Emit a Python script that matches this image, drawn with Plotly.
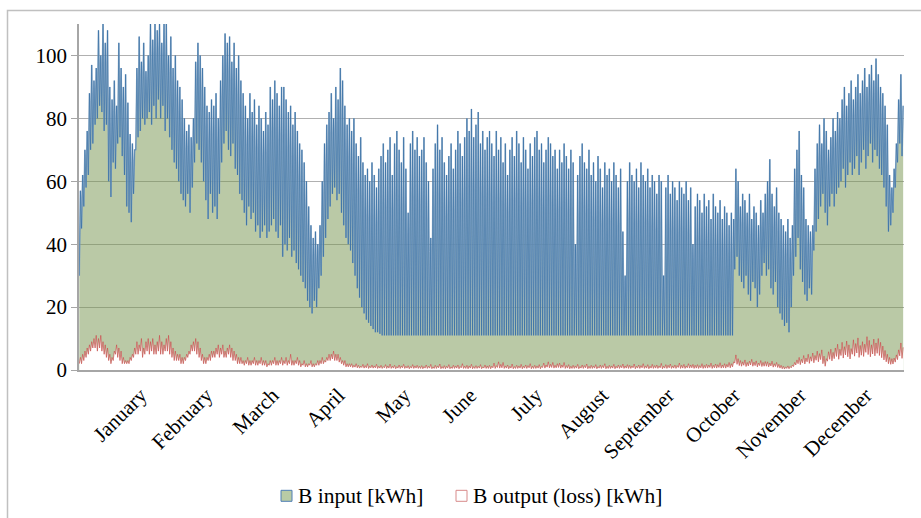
import plotly.graph_objects as go

# ---------------- data ----------------
month_labels = ["January", "February", "March", "April", "May", "June", "July",
                "August", "September", "October", "November", "December"]
y_ticks = [0, 20, 40, 60, 80, 100]

# B input [kWh]: daily peak and daily low, month by month
jan_peak = [57, 62, 70, 76, 88, 97, 92, 96, 108, 100, 110, 104, 108, 90, 86, 92, 84, 104, 96, 90, 94, 85, 75, 72, 70, 96, 106, 98, 104, 95, 100]
jan_low = [30, 45, 52, 58, 62, 70, 72, 78, 80, 84, 82, 76, 78, 60, 55, 66, 64, 72, 74, 68, 62, 52, 50, 47, 56, 70, 74, 76, 80, 78, 80]
feb_peak = [110, 105, 110, 108, 110, 104, 110, 110, 100, 106, 96, 100, 92, 90, 86, 80, 76, 78, 74, 80, 98, 104, 100, 96, 90, 84, 82, 86]
feb_low = [82, 78, 84, 80, 86, 80, 84, 76, 80, 74, 70, 66, 64, 60, 56, 54, 52, 56, 50, 58, 66, 72, 70, 66, 60, 54, 48, 56]
mar_peak = [84, 88, 80, 92, 100, 107, 104, 106, 98, 104, 96, 100, 92, 88, 84, 80, 88, 82, 86, 78, 84, 80, 76, 82, 78, 90, 86, 92, 88, 84, 90]
mar_low = [50, 52, 48, 56, 66, 72, 76, 70, 68, 72, 64, 62, 56, 54, 50, 46, 52, 48, 50, 44, 46, 42, 44, 46, 42, 44, 46, 48, 44, 42, 46]
apr_peak = [90, 86, 82, 84, 78, 82, 76, 72, 70, 66, 60, 52, 46, 42, 44, 40, 46, 60, 72, 78, 82, 88, 80, 90, 86, 96, 92, 84, 78, 80]
apr_low = [36, 40, 38, 42, 36, 38, 34, 32, 30, 28, 26, 22, 20, 18, 22, 20, 26, 30, 36, 42, 48, 52, 56, 58, 54, 56, 50, 46, 42, 40]
may_peak = [76, 80, 72, 68, 74, 66, 62, 64, 60, 66, 62, 58, 64, 68, 72, 66, 70, 74, 62, 72, 76, 70, 66, 74, 64, 50, 72, 76, 70, 74, 68]
may_low = [38, 34, 30, 26, 23, 20, 18, 16, 15, 14, 13, 12, 12, 11.5, 11, 11, 11, 11, 11, 11, 11, 11, 11, 11, 11, 11, 11, 11, 11, 11, 11]
jun_peak = [70, 74, 66, 60, 42, 64, 72, 78, 70, 74, 66, 62, 68, 72, 64, 70, 76, 72, 68, 74, 80, 76, 83, 74, 78, 82, 72, 76, 70, 74]
jun_low = [11] * 30
jul_peak = [76, 72, 68, 76, 70, 74, 66, 72, 62, 70, 74, 68, 76, 72, 66, 74, 70, 64, 72, 68, 74, 76, 70, 72, 66, 70, 74, 72, 68, 70, 64]
jul_low = [11] * 31
aug_peak = [70, 66, 72, 68, 64, 70, 66, 40, 62, 68, 72, 66, 64, 70, 62, 66, 60, 68, 64, 58, 66, 62, 64, 60, 66, 62, 58, 64, 44, 30, 60]
aug_low = [11] * 31
sep_peak = [66, 62, 60, 64, 58, 66, 62, 60, 64, 58, 62, 60, 56, 62, 60, 30, 58, 62, 56, 60, 58, 54, 60, 58, 56, 60, 54, 58, 40, 52]
sep_low = [11] * 30
oct_peak = [56, 54, 50, 56, 52, 54, 48, 56, 52, 50, 54, 48, 52, 50, 46, 50, 48, 64, 60, 52, 56, 54, 50, 56, 48, 52, 50, 46, 54, 50, 56]
oct_low = [11, 11, 11, 11, 11, 11, 11, 11, 11, 11, 11, 11, 11, 11, 11, 11, 11, 32, 36, 30, 28, 26, 30, 24, 22, 28, 26, 20, 24, 30, 34]
nov_peak = [60, 67, 56, 52, 58, 50, 48, 46, 44, 48, 42, 46, 64, 70, 76, 62, 58, 48, 46, 44, 46, 64, 72, 78, 72, 80, 76, 70, 74, 80]
nov_low = [30, 32, 26, 24, 28, 20, 18, 16, 14, 15, 12, 20, 30, 36, 42, 32, 28, 24, 22, 26, 24, 38, 44, 48, 52, 56, 50, 46, 52, 56]
dec_peak = [76, 82, 80, 86, 90, 84, 88, 92, 86, 90, 94, 88, 92, 96, 90, 94, 97, 92, 99, 94, 90, 88, 84, 78, 62, 58, 64, 72, 86, 94, 84]
dec_low = [52, 56, 58, 60, 64, 58, 62, 66, 62, 64, 68, 62, 66, 70, 64, 68, 72, 66, 70, 68, 64, 62, 58, 52, 44, 46, 50, 58, 66, 72, 68]

# B output (loss) [kWh]: daily high and daily low, month by month
jan_out_hi = [4, 5, 6, 7, 8, 9, 10, 11, 10, 11, 9, 8, 7, 5, 4, 6, 8, 7, 6, 4, 3, 3, 4, 5, 7, 9, 8, 10, 7, 9, 10]
jan_out_lo = [2, 2, 3, 4, 5, 6, 7, 7, 6, 7, 6, 5, 4, 3, 2, 3, 5, 4, 3, 2, 2, 2, 2, 3, 4, 5, 5, 6, 4, 5, 6]
feb_out_hi = [9, 10, 8, 9, 11, 9, 8, 10, 11, 9, 7, 6, 5, 5, 4, 4, 5, 6, 8, 9, 10, 9, 7, 5, 4, 4, 5, 6]
feb_out_lo = [5, 6, 5, 5, 6, 5, 5, 6, 6, 5, 4, 3, 3, 3, 2, 2, 3, 4, 5, 6, 6, 5, 4, 3, 2, 2, 3, 3]
mar_out_hi = [6, 7, 8, 7, 8, 6, 7, 8, 7, 6, 5, 4, 4, 3, 3, 4, 3, 3, 4, 3, 3, 4, 3, 3, 2, 3, 3, 4, 3, 3, 4]
mar_out_lo = [4, 4, 5, 4, 5, 4, 4, 5, 4, 3, 3, 2, 2, 2, 1.5, 2, 1.5, 1.5, 2, 1.5, 1.5, 2, 1.5, 1.5, 1, 1.5, 1.5, 2, 1.5, 1.5, 2]
apr_out_hi = [3, 4, 3, 5, 3, 3, 4, 3, 2, 3, 2, 2, 3, 2, 2, 3, 3, 4, 3, 4, 5, 5, 6, 5, 5, 4, 3, 3, 2, 2]
apr_out_lo = [1.5, 2, 1.5, 2, 1.5, 1.5, 2, 1.5, 1, 1.5, 1, 1, 1.5, 1, 1, 1.5, 1.5, 2, 2, 2.5, 3, 3, 3.5, 3, 3, 2.5, 2, 1.5, 1, 1]
may_out_hi = [2, 1.5, 2, 1.5, 1.2, 1.8, 1.4, 2, 1.2, 1.6, 1.3, 1.8, 1.2, 1.5, 1.1, 1.7, 1.3, 1.9, 1.2, 1.5, 1.1, 1.6, 1.3, 1.8, 1.2, 1.4, 1.1, 1.7, 1.3, 1.5, 1.2]
may_out_lo = [1.0, 0.8, 0.9, 0.7, 0.6, 0.8, 0.6, 0.7, 0.5, 0.7, 0.6, 0.7, 0.5, 0.6, 0.5, 0.7, 0.5, 0.6, 0.5, 0.6, 0.4, 0.6, 0.5, 0.7, 0.5, 0.6, 0.4, 0.6, 0.5, 0.6, 0.5]
jun_out_hi = [1.4, 1.1, 1.6, 1.2, 1.8, 1.0, 1.5, 1.3, 1.9, 1.1, 1.4, 1.2, 1.7, 1.0, 1.5, 1.3, 1.6, 1.1, 2.0, 1.2, 1.5, 1.3, 1.8, 1.1, 1.4, 1.2, 1.7, 1.0, 1.6, 1.3]
jun_out_lo = [0.5, 0.4, 0.6, 0.5, 0.6, 0.4, 0.5, 0.5, 0.7, 0.4, 0.5, 0.4, 0.6, 0.4, 0.5, 0.5, 0.6, 0.4, 0.7, 0.5, 0.5, 0.4, 0.6, 0.4, 0.5, 0.5, 0.6, 0.4, 0.6, 0.5]
jul_out_hi = [1.5, 1.2, 2.2, 1.4, 2.6, 1.8, 2.4, 1.3, 1.6, 1.2, 1.9, 1.1, 1.5, 1.3, 1.8, 1.2, 1.6, 1.4, 2.0, 1.2, 1.5, 1.3, 1.7, 1.1, 2.2, 1.6, 2.6, 1.8, 2.4, 1.5, 2.0]
jul_out_lo = [0.5, 0.4, 0.7, 0.5, 0.8, 0.6, 0.7, 0.5, 0.6, 0.4, 0.6, 0.4, 0.5, 0.5, 0.6, 0.4, 0.6, 0.5, 0.7, 0.4, 0.5, 0.5, 0.6, 0.4, 0.8, 0.6, 0.9, 0.7, 0.8, 0.6, 0.7]
aug_out_hi = [2.2, 1.6, 2.4, 1.4, 1.7, 1.2, 1.5, 1.3, 1.8, 1.1, 1.6, 1.4, 1.9, 1.2, 1.5, 1.3, 1.7, 1.1, 1.6, 1.4, 2.0, 1.2, 1.5, 1.3, 1.8, 1.2, 1.6, 1.4, 1.9, 1.3, 1.7]
aug_out_lo = [0.8, 0.6, 0.8, 0.5, 0.6, 0.4, 0.5, 0.5, 0.6, 0.4, 0.6, 0.5, 0.7, 0.4, 0.5, 0.5, 0.6, 0.4, 0.6, 0.5, 0.7, 0.4, 0.5, 0.5, 0.6, 0.4, 0.6, 0.5, 0.7, 0.5, 0.6]
sep_out_hi = [1.5, 1.3, 1.9, 1.2, 1.6, 1.4, 2.0, 1.3, 1.7, 1.2, 1.8, 1.4, 1.6, 1.3, 2.1, 1.2, 1.7, 1.5, 1.9, 1.3, 1.6, 1.4, 2.2, 1.5, 1.8, 1.3, 2.0, 1.6, 1.8, 1.5]
sep_out_lo = [0.5, 0.5, 0.7, 0.4, 0.6, 0.5, 0.7, 0.5, 0.6, 0.4, 0.6, 0.5, 0.6, 0.5, 0.7, 0.4, 0.6, 0.5, 0.7, 0.5, 0.6, 0.5, 0.8, 0.5, 0.6, 0.5, 0.7, 0.6, 0.7, 0.5]
oct_out_hi = [1.7, 1.4, 2.0, 1.5, 1.8, 1.6, 2.2, 1.5, 1.9, 1.7, 2.3, 1.6, 2.0, 1.8, 2.4, 2.0, 2.6, 4.8, 3.6, 3.0, 2.6, 3.2, 2.4, 2.8, 3.4, 2.5, 2.9, 2.2, 3.0, 2.4, 2.7]
oct_out_lo = [0.6, 0.5, 0.7, 0.5, 0.6, 0.6, 0.8, 0.5, 0.7, 0.6, 0.8, 0.6, 0.7, 0.6, 0.9, 0.7, 1.0, 2.2, 1.8, 1.4, 1.2, 1.5, 1.1, 1.3, 1.6, 1.2, 1.4, 1.0, 1.4, 1.1, 1.2]
nov_out_hi = [2.6, 2.2, 2.8, 2.0, 2.4, 1.8, 1.5, 1.2, 1.0, 1.3, 1.1, 1.6, 2.4, 3.2, 4.0, 3.4, 4.6, 3.8, 5.0, 4.2, 5.4, 4.6, 6.0, 5.2, 6.4, 4.4, 3.6, 5.8, 6.6, 5.6]
nov_out_lo = [1.2, 1.0, 1.3, 0.9, 1.1, 0.8, 0.6, 0.4, 0.3, 0.5, 0.4, 0.7, 1.1, 1.6, 2.0, 1.7, 2.3, 1.9, 2.6, 2.1, 2.8, 2.3, 3.1, 2.6, 3.3, 2.0, 1.2, 2.8, 3.4, 2.9]
dec_out_hi = [7.0, 8.2, 6.6, 8.8, 7.4, 9.2, 8.0, 6.8, 9.6, 8.4, 10.2, 7.8, 9.0, 8.2, 10.6, 9.4, 8.0, 9.8, 8.6, 10.0, 8.8, 7.6, 6.2, 5.0, 4.0, 3.6, 3.8, 4.8, 6.4, 8.6, 7.2]
dec_out_lo = [3.6, 4.3, 3.4, 4.6, 3.8, 4.8, 4.2, 3.5, 5.0, 4.4, 5.4, 4.0, 4.7, 4.3, 5.6, 4.9, 4.2, 5.1, 4.5, 5.3, 4.6, 3.9, 3.2, 2.6, 2.0, 1.8, 1.9, 2.5, 3.3, 4.5, 3.7]

# ---------------- assemble ----------------
in_peak = (jan_peak + feb_peak + mar_peak + apr_peak + may_peak + jun_peak +
           jul_peak + aug_peak + sep_peak + oct_peak + nov_peak + dec_peak)
in_low = (jan_low + feb_low + mar_low + apr_low + may_low + jun_low +
          jul_low + aug_low + sep_low + oct_low + nov_low + dec_low)
out_hi = (jan_out_hi + feb_out_hi + mar_out_hi + apr_out_hi + may_out_hi + jun_out_hi +
          jul_out_hi + aug_out_hi + sep_out_hi + oct_out_hi + nov_out_hi + dec_out_hi)
out_lo = (jan_out_lo + feb_out_lo + mar_out_lo + apr_out_lo + may_out_lo + jun_out_lo +
          jul_out_lo + aug_out_lo + sep_out_lo + oct_out_lo + nov_out_lo + dec_out_lo)

x_h, y_in, y_out = [], [], []
for d in range(len(in_peak)):
    x_h += [d * 24 + 3, d * 24 + 15]
    y_in += [in_low[d], in_peak[d]]
    y_out += [out_lo[d], out_hi[d]]

# ---------------- geometry helpers (pixel -> paper) ----------------
W, H = 921, 518
L, R, T, B = 79, 904, 23.5, 370


def px(xp):
    return (xp - L) / (R - L)


def py(yp):
    return (B - yp) / (B - T)


SERIF = "Liberation Serif"

fig = go.Figure()
# green area of B input
fig.add_trace(go.Scatter(
    x=x_h, y=y_in, mode="lines", name="B input [kWh]",
    line=dict(color="rgba(0,0,0,0)", width=0),
    fill="tozeroy", fillcolor="rgba(117,147,77,0.5)",
    showlegend=False, hoverinfo="skip"))
# light blue halo of the input line
fig.add_trace(go.Scatter(
    x=x_h, y=y_in, mode="lines", line=dict(color="rgba(140,170,200,0.85)", width=1.6),
    showlegend=False, hoverinfo="skip"))
# dark blue input line
fig.add_trace(go.Scatter(
    x=x_h, y=y_in, mode="lines", line=dict(color="#22609d", width=0.5),
    showlegend=False, hoverinfo="skip"))
# B output (loss): white area with red outline
fig.add_trace(go.Scatter(
    x=x_h, y=y_out, mode="lines", name="B output (loss) [kWh]",
    line=dict(color="#c8504f", width=0.7),
    fill="tozeroy", fillcolor="white",
    showlegend=False, hoverinfo="skip"))

tick_pos = [700 * (k + 1) - 45 for k in range(len(month_labels))]

fig.update_layout(
    width=W, height=H,
    margin=dict(l=L, r=W - R, t=T, b=H - B, pad=0),
    paper_bgcolor="white", plot_bgcolor="white",
    font=dict(family=SERIF, size=21, color="black"),
    xaxis=dict(range=[0, 8760], tickmode="array", tickvals=tick_pos,
               ticktext=month_labels, tickangle=-45, showgrid=False,
               showline=True, linecolor="#a6a6a6", linewidth=1.5,
               ticks="outside", ticklen=3, tickcolor="rgba(0,0,0,0)",
               tickfont=dict(family=SERIF, size=21), zeroline=False),
    yaxis=dict(range=[0, 110], tickmode="array", tickvals=y_ticks,
               showgrid=True, gridcolor="#b0b0b0", gridwidth=1.2,
               showline=True, linecolor="#a6a6a6", linewidth=1.5,
               ticks="outside", ticklen=6, tickcolor="#a6a6a6",
               tickfont=dict(family=SERIF, size=21), zeroline=False),
)

# outer chart frame
fig.add_shape(type="rect", xref="paper", yref="paper",
              x0=px(7.5), x1=px(935), y0=py(10), y1=py(540),
              line=dict(color="#c0c0c0", width=1.5), fillcolor="rgba(0,0,0,0)",
              layer="below")

# legend (drawn manually)
fig.add_shape(type="rect", xref="paper", yref="paper",
              x0=px(281), x1=px(292), y0=py(490.5), y1=py(501.5),
              line=dict(color="#4f7fb5", width=1), fillcolor="#b9cba5")
fig.add_shape(type="rect", xref="paper", yref="paper",
              x0=px(456), x1=px(467), y0=py(490.5), y1=py(501.5),
              line=dict(color="#d88a8a", width=1), fillcolor="white")
fig.add_annotation(x=px(296), y=py(496), xref="paper", yref="paper",
                   text="B input [kWh]", showarrow=False, xanchor="left",
                   yanchor="middle", font=dict(family=SERIF, size=21.5))
fig.add_annotation(x=px(471), y=py(496), xref="paper", yref="paper",
                   text="B output (loss) [kWh]", showarrow=False, xanchor="left",
                   yanchor="middle", font=dict(family=SERIF, size=21.5))

fig.write_html("out.html", config={"displayModeBar": False},
               post_script="document.body.style.margin='0';"
               "document.body.style.overflow='hidden';")
